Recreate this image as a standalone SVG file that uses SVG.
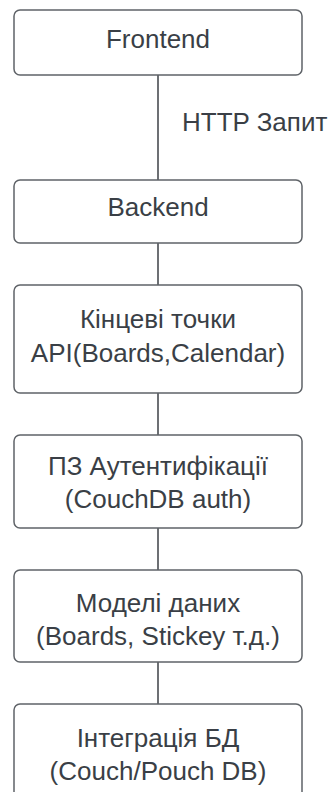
<svg xmlns="http://www.w3.org/2000/svg" width="329" height="792" viewBox="0 0 329 792">
<style>
.box{fill:#ffffff;stroke:#5f6368;stroke-width:1.5}
.t{font-family:"Liberation Sans",Arial,sans-serif;font-size:26px;fill:#3a3f46;text-anchor:middle}
.lbl{font-family:"Liberation Sans",Arial,sans-serif;font-size:26px;fill:#3a3f46}
.c{stroke:#3c4046;stroke-width:1.5;fill:none}
</style>
<rect width="329" height="792" fill="#ffffff"/>
<g id="connectors">
<line class="c" x1="158" y1="75" x2="158" y2="180"/>
<line class="c" x1="158" y1="243" x2="158" y2="285"/>
<line class="c" x1="158" y1="393" x2="158" y2="435"/>
<line class="c" x1="158" y1="528" x2="158" y2="570"/>
<line class="c" x1="158" y1="662" x2="158" y2="704"/>
<text class="lbl" x="182" y="131">HTTP Запит</text>
</g>
<g id="frontend">
<rect class="box" x="14" y="10" width="288" height="65" rx="6"/>
<text class="t" x="158" y="48">Frontend</text>
</g>
<g id="backend">
<rect class="box" x="14" y="180" width="288" height="63" rx="6"/>
<text class="t" x="158" y="216">Backend</text>
</g>
<g id="api">
<rect class="box" x="14" y="285" width="288" height="108" rx="6"/>
<text class="t" x="158" y="328">Кінцеві точки</text>
<text class="t" x="158" y="362">API(Boards,Calendar)</text>
</g>
<g id="auth">
<rect class="box" x="14" y="435" width="288" height="93" rx="6"/>
<text class="t" x="158" y="475">ПЗ Аутентифікації</text>
<text class="t" x="158" y="508">(CouchDB auth)</text>
</g>
<g id="models">
<rect class="box" x="14" y="570" width="288" height="92" rx="6"/>
<text class="t" x="158" y="612">Моделі даних</text>
<text class="t" x="158" y="645">(Boards, Stickey т.д.)</text>
</g>
<g id="db">
<rect class="box" x="14" y="704" width="288" height="100" rx="6"/>
<text class="t" x="158" y="747">Інтеграція БД</text>
<text class="t" x="158" y="780">(Couch/Pouch DB)</text>
</g>
</svg>
